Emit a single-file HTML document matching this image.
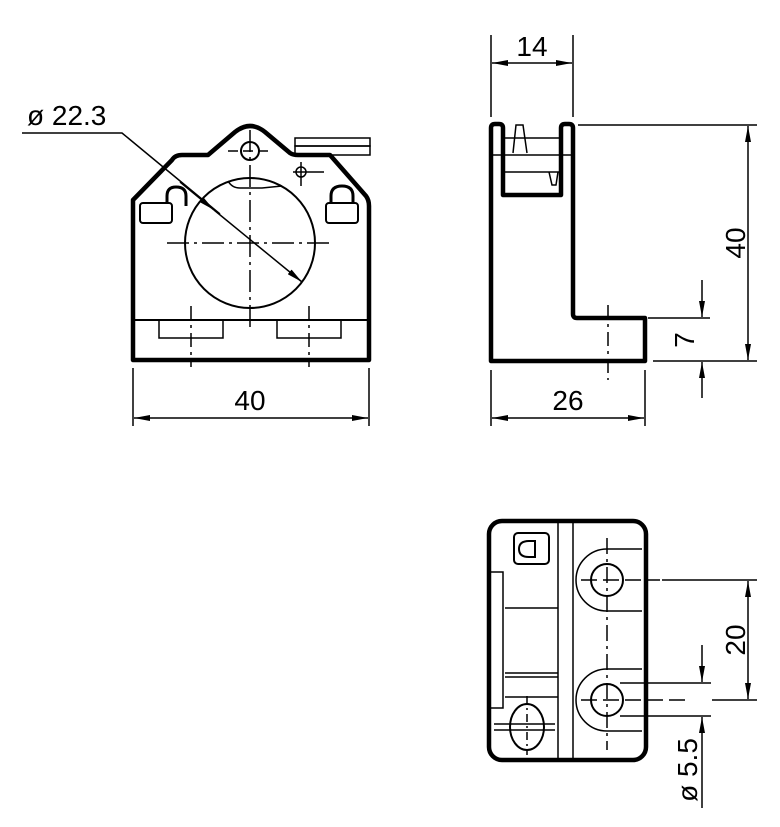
<!DOCTYPE html>
<html><head><meta charset="utf-8"><style>
html,body{margin:0;padding:0;background:#fff}
svg{display:block}
text{font-family:"Liberation Sans",Arial,sans-serif;fill:#000}
</style></head><body>
<svg width="780" height="827" viewBox="0 0 780 827" xmlns="http://www.w3.org/2000/svg">
<defs>
<marker id="a" viewBox="0 0 16 6" refX="16" refY="3" markerWidth="16" markerHeight="6" markerUnits="userSpaceOnUse" orient="auto"><path d="M0,0L16,3L0,6z" fill="#000"/></marker>
</defs>
<g fill="none" stroke="#000">
<!-- FRONT VIEW -->
<path d="M133,360 L133,200 L172,160 Q175,155 182,155 L208,155 L235,132 Q250,120 265,132 L290,153 Q293,155 298,155 L330,155 L366,196 Q369,200 369,206 L369,360 Z" stroke-width="4.5" stroke-linejoin="round"/>
<line x1="133" y1="320" x2="369" y2="320" stroke-width="2"/>
<rect x="159" y="320" width="64" height="18" stroke-width="1.5"/>
<rect x="277" y="320" width="64" height="18" stroke-width="1.5"/>
<circle cx="250" cy="243" r="65" stroke-width="2"/>
<path d="M228,181 Q232,188 240,188 L262,188 L282,186" stroke-width="1.5"/>
<circle cx="250" cy="151" r="9" stroke-width="2"/>
<rect x="295" y="138" width="75" height="8" stroke-width="1.5"/>
<rect x="295" y="146" width="75" height="9" stroke-width="1.5"/>
<circle cx="301" cy="172" r="5" stroke-width="1.5"/>
<line x1="293" y1="172" x2="324" y2="172" stroke-width="1.5"/>
<line x1="301" y1="162" x2="301" y2="186" stroke-width="1.5"/>
<!-- open lock -->
<rect x="140" y="203" width="32" height="20" rx="3" stroke-width="2"/>
<path d="M167,203 L167,196 Q167,187 176,187 Q186,187 186,196 L186,206" stroke-width="3"/>
<!-- closed lock -->
<rect x="326" y="203" width="32" height="20" rx="3" stroke-width="2"/>
<path d="M331,203 L331,196 Q331,186 342,186 Q353,186 353,196 L353,203" stroke-width="3"/>
<!-- center lines -->
<line x1="250" y1="130" x2="250" y2="330" stroke-width="1.5" stroke-dasharray="22,5,3,5"/>
<line x1="228" y1="151" x2="272" y2="151" stroke-width="1.5" stroke-dasharray="10,5"/>
<line x1="167" y1="243" x2="333" y2="243" stroke-width="1.5" stroke-dasharray="22,5,3,5"/>
<line x1="191" y1="306" x2="191" y2="367" stroke-width="1.5" stroke-dasharray="14,5,3,5"/>
<line x1="309" y1="306" x2="309" y2="367" stroke-width="1.5" stroke-dasharray="14,5,3,5"/>
<!-- diameter leader -->
<polyline points="22,133 122,133 220,214" stroke-width="1.5"/>
<line x1="180" y1="182" x2="214" y2="210" stroke-width="1.5" marker-end="url(#a)"/>
<line x1="214" y1="210" x2="302" y2="282" stroke-width="1.5" marker-end="url(#a)"/>
<!-- dim 40 -->
<line x1="133" y1="368" x2="133" y2="426" stroke-width="1.5"/>
<line x1="369" y1="368" x2="369" y2="426" stroke-width="1.5"/>
<line x1="250" y1="418" x2="134" y2="418" stroke-width="1.5" marker-end="url(#a)"/>
<line x1="250" y1="418" x2="368" y2="418" stroke-width="1.5" marker-end="url(#a)"/>

<!-- SIDE VIEW -->
<path d="M491,361 L491,128 Q491,124 495,124 L499,124 Q503,124 503,128 L503,195 L561,195 L561,128 Q561,124 565,124 L569,124 Q573,124 573,128 L573,314 Q573,318 577,318 L645,318 L645,361 Z" stroke-width="4.5" stroke-linejoin="round"/>
<line x1="503" y1="138" x2="561" y2="138" stroke-width="1.5"/>
<line x1="491" y1="155" x2="573" y2="155" stroke-width="1.5"/>
<line x1="503" y1="172" x2="561" y2="172" stroke-width="1.5"/>
<path d="M513,153 L516,125 L523,125 L527,153" stroke-width="1.5"/>
<path d="M549,172 L552,185 L556,185 L558,172" stroke-width="1.5"/>
<line x1="608" y1="305" x2="608" y2="380" stroke-width="1.5" stroke-dasharray="14,5,3,5"/>
<!-- dim 14 -->
<line x1="491" y1="35" x2="491" y2="117" stroke-width="1.5"/>
<line x1="573" y1="35" x2="573" y2="117" stroke-width="1.5"/>
<line x1="532" y1="63" x2="492" y2="63" stroke-width="1.5" marker-end="url(#a)"/>
<line x1="532" y1="63" x2="572" y2="63" stroke-width="1.5" marker-end="url(#a)"/>
<!-- dim 26 -->
<line x1="491" y1="370" x2="491" y2="426" stroke-width="1.5"/>
<line x1="645" y1="370" x2="645" y2="426" stroke-width="1.5"/>
<line x1="568" y1="418" x2="492" y2="418" stroke-width="1.5" marker-end="url(#a)"/>
<line x1="568" y1="418" x2="644" y2="418" stroke-width="1.5" marker-end="url(#a)"/>
<!-- dim 40 vertical -->
<line x1="578" y1="125" x2="757" y2="125" stroke-width="1.5"/>
<line x1="653" y1="361" x2="757" y2="361" stroke-width="1.5"/>
<line x1="748" y1="243" x2="748" y2="126" stroke-width="1.5" marker-end="url(#a)"/>
<line x1="748" y1="243" x2="748" y2="360" stroke-width="1.5" marker-end="url(#a)"/>
<!-- dim 7 -->
<line x1="648" y1="318" x2="710" y2="318" stroke-width="1.5"/>
<line x1="702" y1="280" x2="702" y2="317" stroke-width="1.5" marker-end="url(#a)"/>
<line x1="702" y1="398" x2="702" y2="362" stroke-width="1.5" marker-end="url(#a)"/>

<!-- BOTTOM VIEW -->
<rect x="489" y="521" width="157" height="239" rx="13" stroke-width="4.5"/>
<line x1="558" y1="521" x2="558" y2="760" stroke-width="1.5"/>
<line x1="573" y1="521" x2="573" y2="760" stroke-width="1.5"/>
<path d="M491,572 L503,572 L503,708 L491,708" stroke-width="1.5"/>
<line x1="505" y1="608" x2="558" y2="608" stroke-width="1.5"/>
<line x1="505" y1="673" x2="558" y2="673" stroke-width="1.5"/>
<line x1="505" y1="677" x2="558" y2="677" stroke-width="1.5"/>
<line x1="505" y1="697" x2="558" y2="697" stroke-width="1.5"/>
<rect x="514" y="533" width="35" height="31" rx="4" stroke-width="2"/>
<path d="M535,541 L529,541 Q519,541 519,549 Q519,557 529,557 L535,557 Z" stroke-width="2"/>
<!-- holes -->
<path d="M642,549 L607,549 A31,31 0 0 0 607,611 L642,611" stroke-width="1.5"/>
<circle cx="607" cy="580" r="16" stroke-width="2"/>
<path d="M642,669 L607,669 A31,31 0 0 0 607,731 L642,731" stroke-width="1.5"/>
<circle cx="607" cy="700" r="16" stroke-width="2"/>
<ellipse cx="527" cy="727" rx="17" ry="23" stroke-width="2"/>
<line x1="494" y1="724" x2="555" y2="724" stroke-width="1.5"/>
<line x1="494" y1="730" x2="555" y2="730" stroke-width="1.5"/>
<line x1="527" y1="696" x2="527" y2="755" stroke-width="1.5" stroke-dasharray="8,4,2,4"/>
<line x1="607" y1="538" x2="607" y2="750" stroke-width="1.5" stroke-dasharray="16,5,3,5"/>
<line x1="581" y1="580" x2="660" y2="580" stroke-width="1.5" stroke-dasharray="16,6"/>
<line x1="581" y1="700" x2="690" y2="700" stroke-width="1.5" stroke-dasharray="16,6"/>
<line x1="662" y1="580" x2="757" y2="580" stroke-width="1.5"/>
<line x1="712" y1="700" x2="757" y2="700" stroke-width="1.5"/>
<line x1="748" y1="640" x2="748" y2="581" stroke-width="1.5" marker-end="url(#a)"/>
<line x1="748" y1="640" x2="748" y2="699" stroke-width="1.5" marker-end="url(#a)"/>
<line x1="620" y1="683" x2="711" y2="683" stroke-width="1.5"/>
<line x1="620" y1="716" x2="711" y2="716" stroke-width="1.5"/>
<line x1="702" y1="645" x2="702" y2="682" stroke-width="1.5" marker-end="url(#a)"/>
<line x1="702" y1="808" x2="702" y2="717" stroke-width="1.5" marker-end="url(#a)"/>
</g>
<text x="27" y="125" font-size="28">ø 22.3</text>
<text x="250" y="410" font-size="28" text-anchor="middle">40</text>
<text x="532" y="56" font-size="28" text-anchor="middle">14</text>
<text x="568" y="410" font-size="28" text-anchor="middle">26</text>
<text transform="translate(745,243) rotate(-90)" font-size="28" text-anchor="middle">40</text>
<text transform="translate(694,340) rotate(-90)" font-size="28" text-anchor="middle">7</text>
<text transform="translate(745,640) rotate(-90)" font-size="28" text-anchor="middle">20</text>
<text transform="translate(697,770) rotate(-90)" font-size="28" text-anchor="middle">ø 5.5</text>
</svg>
</body></html>
